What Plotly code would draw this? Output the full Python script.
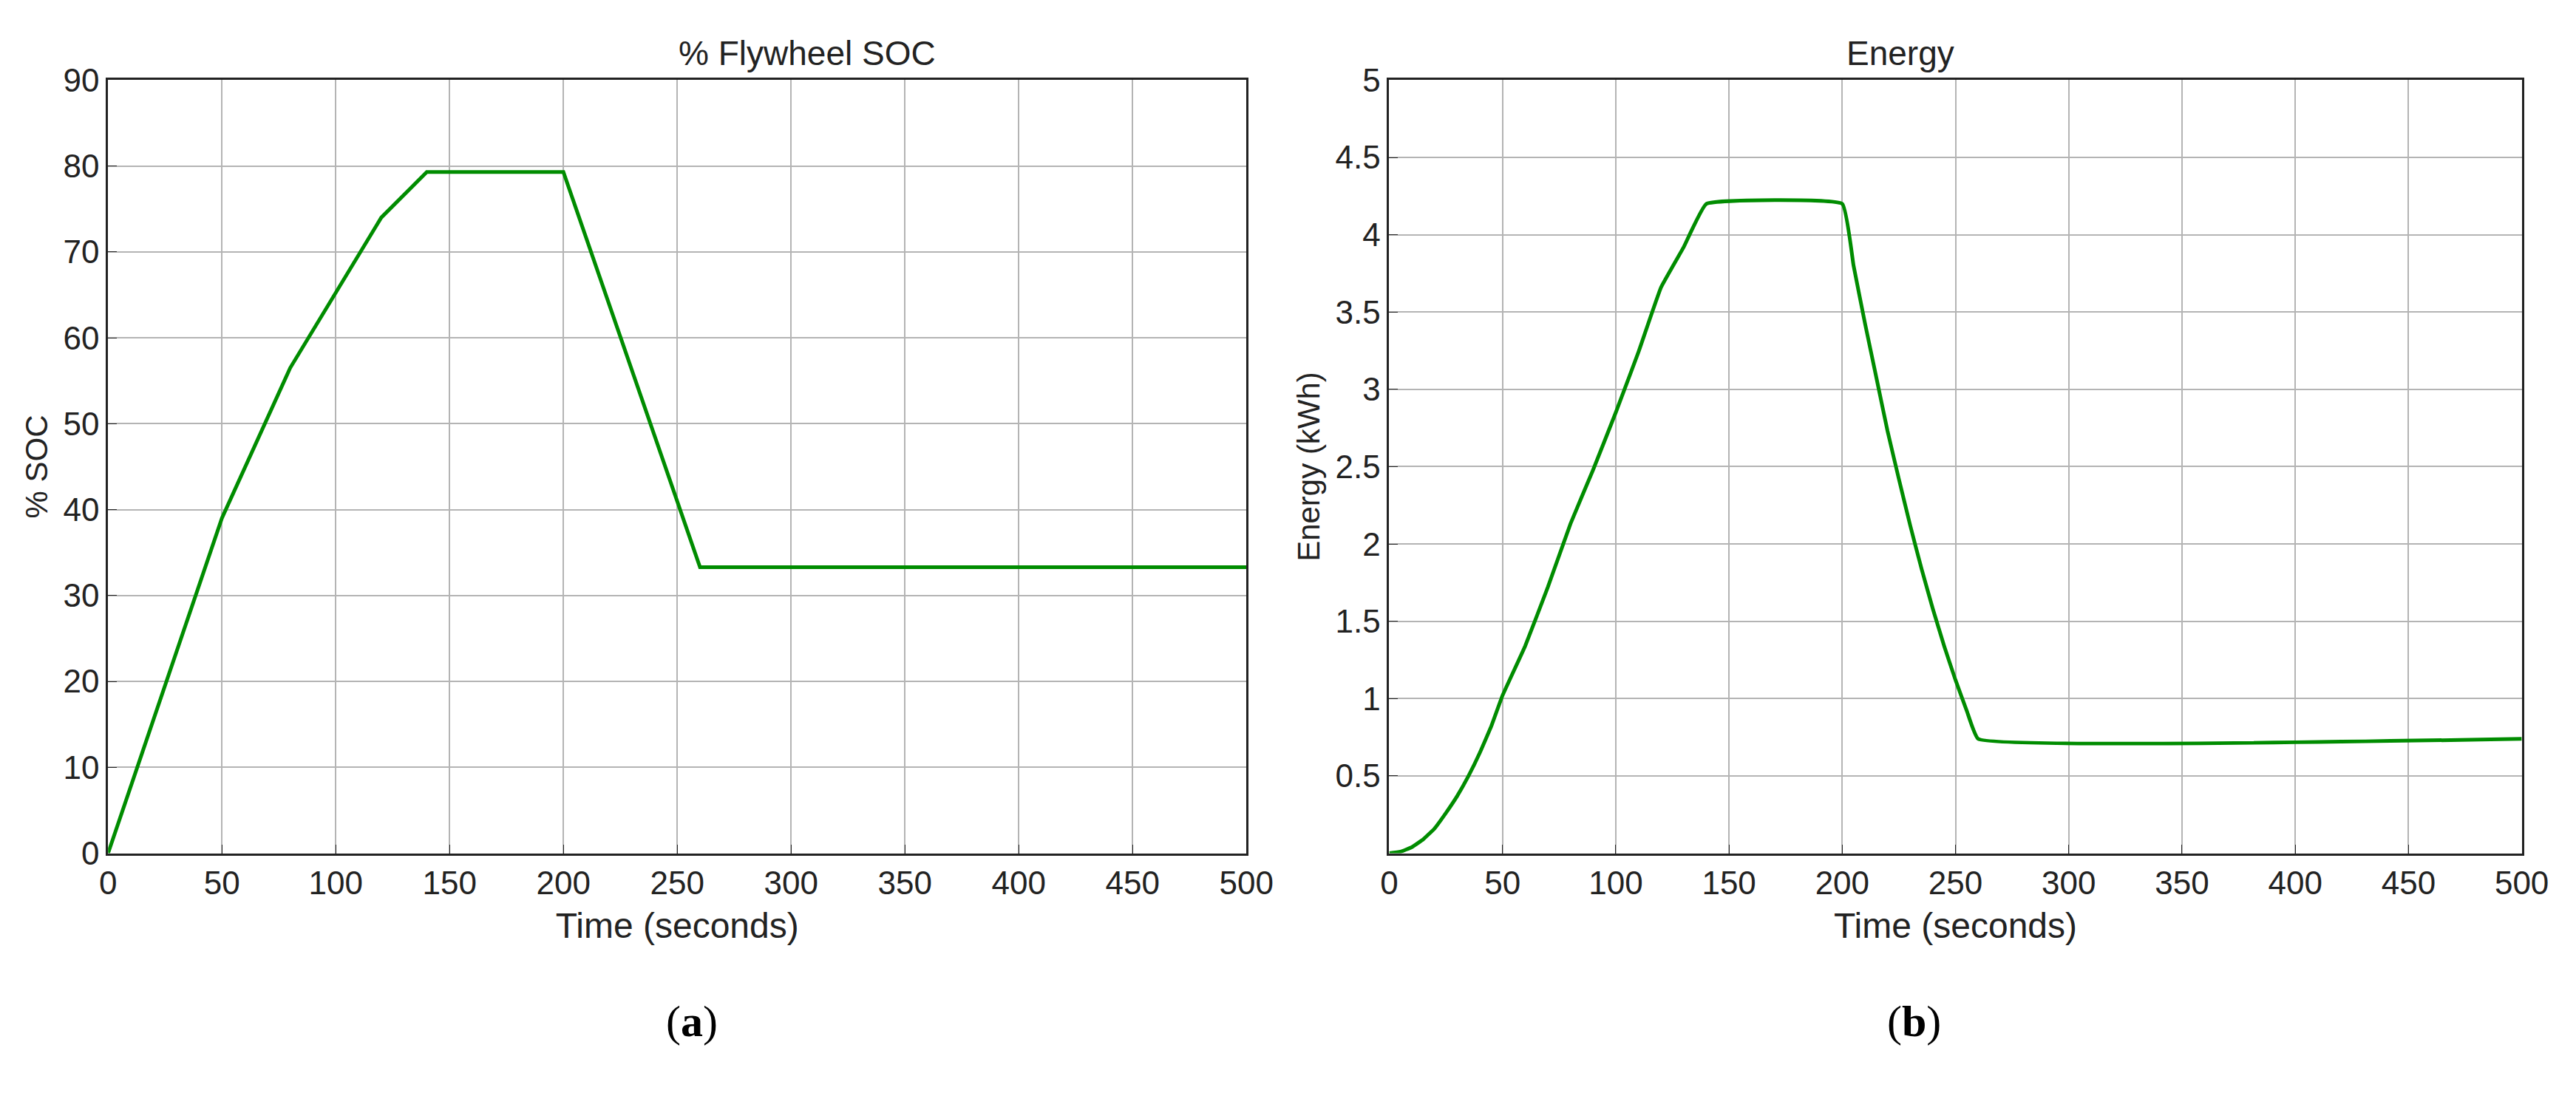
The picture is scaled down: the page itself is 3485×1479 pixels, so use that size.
import plotly.graph_objects as go

t_soc = [0, 50, 80, 120, 140, 200, 260, 500]
soc = [0, 39, 56.5, 74, 79.3, 79.3, 33.3, 33.3]

t_en = [0, 5, 10, 15, 20, 25, 30, 35, 40, 45, 50, 60, 70, 80, 90, 100, 110, 120, 130, 140, 200,
        205, 210, 215, 220, 225, 230, 235, 240, 245, 250, 255, 260, 500]
energy = [0, 0.01, 0.04, 0.09, 0.16, 0.26, 0.37, 0.5, 0.65, 0.82, 1.02, 1.34, 1.72, 2.13, 2.48, 2.85,
          3.24, 3.66, 3.92, 4.2, 4.2, 3.8, 3.43, 3.08, 2.73, 2.42, 2.12, 1.84, 1.58, 1.34, 1.12, 0.92, 0.74, 0.74]

soc_ticks = list(range(0, 91, 10))
en_ticks = [0.5, 1, 1.5, 2, 2.5, 3, 3.5, 4, 4.5, 5]
x_ticks = list(range(0, 501, 50))

W, H = 3485, 1479
fig = go.Figure()
green = "#008C00"
fig.add_trace(go.Scatter(x=t_soc, y=soc, mode="lines", line=dict(color=green, width=5), xaxis="x", yaxis="y"))
fig.add_trace(go.Scatter(x=t_en, y=energy, mode="lines", line=dict(color=green, width=5, shape="spline", smoothing=0.3),
                         xaxis="x2", yaxis="y2"))

narrow = "Liberation Sans Narrow, Arial Narrow, Liberation Sans, Arial"
font = "Liberation Sans, Arial"
ax_common = dict(showgrid=True, gridcolor="#b4b4b4", gridwidth=2, showline=True, linecolor="#222",
                 linewidth=3, mirror=True, ticks="inside", ticklen=12, tickcolor="#222",
                 tickfont=dict(family=narrow, size=44, color="#222"), zeroline=False)
L1, R1, L2, R2 = 128/W, 1690/W, 1886/W, 3440/W
B, T = 1 - 1160/H, 1 - 78/H
xt = dict(text="Time (seconds)", font=dict(family=narrow, size=48, color="#222"), standoff=18)
fig.update_layout(
    width=W, height=H, paper_bgcolor="white", plot_bgcolor="white", showlegend=False,
    margin=dict(l=0, r=0, t=0, b=0),
    xaxis=dict(domain=[L1, R1], range=[0, 500], tickvals=x_ticks, anchor="y", title=xt, **ax_common),
    yaxis=dict(domain=[B, T], range=[0, 90], tickvals=soc_ticks, anchor="x",
               title=dict(text="% SOC", font=dict(family=font, size=42, color="#222"), standoff=8), **ax_common),
    xaxis2=dict(domain=[L2, R2], range=[0, 500], tickvals=x_ticks, anchor="y2", title=xt, **ax_common),
    yaxis2=dict(domain=[B, T], range=[0, 5], tickvals=en_ticks, anchor="x2",
                title=dict(text="Energy (kWh)", font=dict(family=font, size=42, color="#222"), standoff=8), **ax_common),
    annotations=[
        dict(text="% Flywheel SOC", x=(L1+R1)/2, y=1-40/H, xref="paper", yref="paper", showarrow=False,
             yanchor="middle", font=dict(family=narrow, size=46, color="#222")),
        dict(text="Energy", x=(L2+R2)/2, y=1-40/H, xref="paper", yref="paper", showarrow=False,
             yanchor="middle", font=dict(family=narrow, size=46, color="#222")),
        dict(text="(<b>a</b>)", x=(L1+R1)/2 - 0.005, y=1-1395/H, xref="paper", yref="paper", showarrow=False,
             yanchor="middle", font=dict(family="Liberation Serif, Times New Roman", size=60, color="black")),
        dict(text="(<b>b</b>)", x=(L2+R2)/2 - 0.005, y=1-1395/H, xref="paper", yref="paper", showarrow=False,
             yanchor="middle", font=dict(family="Liberation Serif, Times New Roman", size=60, color="black")),
    ],
)
fig.write_html("out.html")
